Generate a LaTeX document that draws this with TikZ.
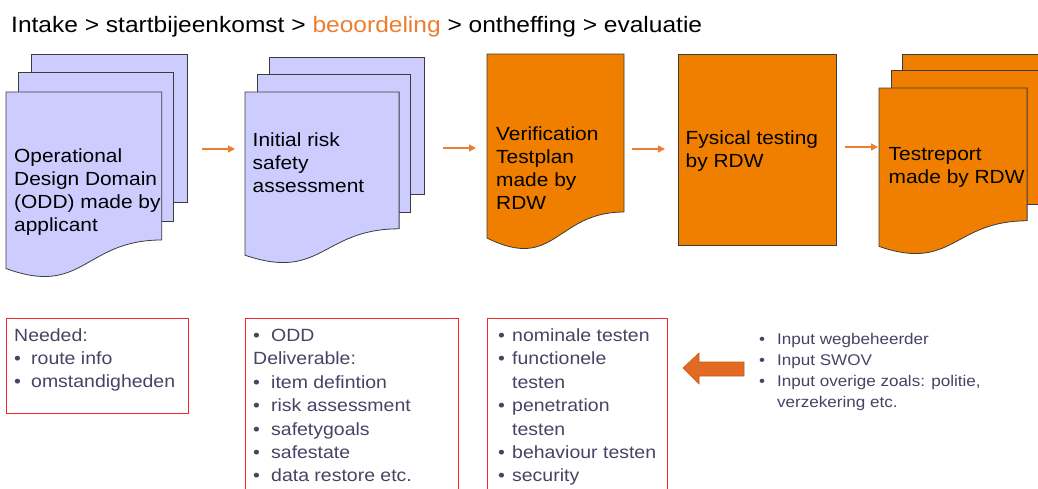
\documentclass[tikz,border=0pt]{standalone}
\usepackage{fontspec}
\setmainfont{Liberation Sans}[FakeStretch=1.1]
\usetikzlibrary{arrows.meta}
\definecolor{lav}{RGB}{204,204,255}
\definecolor{docorange}{RGB}{240,127,0}
\definecolor{arrorange}{RGB}{237,125,49}
\definecolor{bigarrow}{RGB}{226,106,34}
\definecolor{bigarrowline}{RGB}{196,89,17}
\definecolor{boxred}{RGB}{240,40,40}
\definecolor{slate}{RGB}{68,68,100}
\definecolor{pageline}{RGB}{60,60,60}
\newcommand\multidoc[5]{%
 \begin{scope}[shift={(#1,#2)},x=#3pt,y=-#4pt]
  \draw[page,fill=#5] (0.1376,0) rectangle (1,0.666);
  \draw[page,fill=#5] (0.0709,0.084) rectangle (0.926,0.752);
  \draw[page,fill=#5] (0,0.170) -- (0.861,0.170) -- (0.861,0.834)
     .. controls (0.430,0.834) and (0.430,1.090) .. (0,0.962) -- cycle;
 \end{scope}}
\newcommand\bul[2]{\makebox[#1][l]{•}#2}
\tikzset{
  page/.style={draw=pageline,line width=0.8pt},
  doctext/.style={inner sep=0pt,anchor=base west,text=black,font=\fontsize{19}{23.3}\selectfont},
  boxtext/.style={inner sep=0pt,anchor=base west,text=slate,font=\fontsize{17.7}{23.4}\selectfont},
  listtext/.style={inner sep=0pt,anchor=base west,text=slate,font=\fontsize{15.5}{21.3}\selectfont},
  redbox/.style={draw=boxred,line width=1pt},
  flow/.style={draw=arrorange,line width=1.5pt,-{Triangle[length=7pt,width=7pt]}}
}
\begin{document}
\begin{tikzpicture}[x=1pt,y=-1pt]
\useasboundingbox (0,0) rectangle (1038,488);
\clip (0,0) rectangle (1038,488);
% title
\node[inner sep=0pt,anchor=base west,font=\fontsize{22.3}{26}\selectfont] (title) at (11,32)
  {Intake > startbijeenkomst > \textcolor{arrorange}{beoordeling} > ontheffing > evaluatie};
% documents
\multidoc{6}{54}{181}{223}{lav}
\multidoc{245}{57}{179}{206}{lav}
\draw[page,fill=docorange] (487,54) -- (624,54) -- (624,212)
  .. controls (555.5,212) and (555.5,272.2) .. (487,238) -- cycle;
\draw[page,fill=docorange] (678,54) rectangle (836,245);
\multidoc{879}{54}{172}{200}{docorange}
% document texts
\node[doctext] (d1) at (14,162) {\parbox[t]{200pt}{Operational\\Design Domain\\(ODD) made by\\applicant}};
\node[doctext] (d2) at (252.5,146) {\parbox[t]{200pt}{Initial risk\\safety\\assessment}};
\node[doctext] (d3) at (496,140) {\parbox[t]{200pt}{Verification\\Testplan\\made by\\RDW}};
\node[doctext] (d4) at (685.5,144) {\parbox[t]{200pt}{Fysical testing\\by RDW}};
\node[doctext] (d5) at (888.5,160) {\parbox[t]{200pt}{Testreport\\made by RDW}};
% flow arrows
\coordinate (a1s) at (202,149); \coordinate (a1e) at (235,149);
\coordinate (a2s) at (443,148); \coordinate (a2e) at (476,148);
\coordinate (a3s) at (632,149); \coordinate (a3e) at (665,149);
\coordinate (a4s) at (845,147); \coordinate (a4e) at (878,147);
\draw[flow] (a1s) -- (a1e);
\draw[flow] (a2s) -- (a2e);
\draw[flow] (a3s) -- (a3e);
\draw[flow] (a4s) -- (a4e);
% red boxes
\draw[redbox] (6,318) rectangle (188,413);
\draw[redbox] (245,318) rectangle (458,500);
\draw[redbox] (487,318) rectangle (667,500);
\node[boxtext] (b1) at (14,341) {\parbox[t]{170pt}{Needed:\\\bul{17pt}{route info}\\\bul{17pt}{omstandigheden}}};
\node[boxtext] (b2) at (253,341.5) {\parbox[t]{200pt}{\bul{18pt}{ODD}\\Deliverable:\\\bul{18pt}{item defintion}\\\bul{18pt}{risk assessment}\\\bul{18pt}{safetygoals}\\\bul{18pt}{safestate}\\\bul{18pt}{data restore etc.}}};
\node[boxtext] (b3) at (498,341.5) {\parbox[t]{200pt}{\bul{14pt}{nominale testen}\\\bul{14pt}{functionele}\\\hspace*{14pt}testen\\\bul{14pt}{penetration}\\\hspace*{14pt}testen\\\bul{14pt}{behaviour testen}\\\bul{14pt}{security}}};
% big arrow
\draw[fill=bigarrow,draw=bigarrowline,line width=0.6pt] (683,368) -- (699,353) -- (699,362) -- (744,362) -- (744,376) -- (699,376) -- (699,384) -- cycle;
% input list
\node[listtext] (inp) at (759,344) {\parbox[t]{280pt}{\bul{18pt}{Input wegbeheerder}\\\bul{18pt}{Input SWOV}\\\bul{18pt}{Input overige zoals: politie,}\\\hspace*{18pt}verzekering etc.}};
\end{tikzpicture}
\end{document}
